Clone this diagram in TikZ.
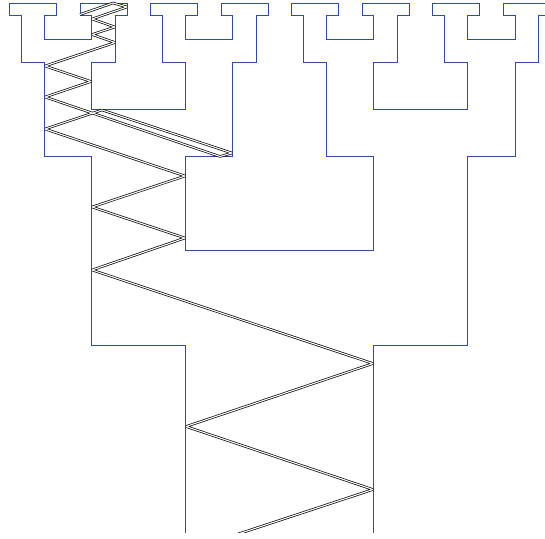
\documentclass[tikz,border=0pt]{standalone}
\definecolor{treeblue}{HTML}{2F4BAA}
\tikzset{
  treeline/.style={draw=treeblue,line width=1pt,line join=miter},
  bounce/.style={draw=black,line width=0.7pt,double=white,double distance=1.1pt,line join=bevel}
}
\begin{document}
\begin{tikzpicture}[x=1pt,y=-1pt]
\useasboundingbox (0,0) rectangle (545,538);
\clip (0,0) rectangle (545,532.5);
\draw[treeline] (185,540)--(185,345)--(91.5,345)--(91.5,156)--(44.5,156)--(44.5,62)--(21,62)--(21,15)--(9,15)--(9,3)--(56,3)--(56,15)--(44.5,15)--(44.5,39)--(91.5,39)--(91.5,15)--(80,15)--(80,3)--(127,3)--(127,15)--(115,15)--(115,62)--(91.5,62)--(91.5,109)--(185,109)--(185,62)--(162,62)--(162,15)--(150,15)--(150,3)--(197,3)--(197,15)--(185,15)--(185,39)--(232.5,39)--(232.5,15)--(221,15)--(221,3)--(268,3)--(268,15)--(256,15)--(256,62)--(232.5,62)--(232.5,156)--(185,156)--(185,250)--(373.5,250)--(373.5,156)--(326,156)--(326,62)--(303,62)--(303,15)--(291,15)--(291,3)--(338,3)--(338,15)--(326,15)--(326,39)--(373.5,39)--(373.5,15)--(362,15)--(362,3)--(409,3)--(409,15)--(397,15)--(397,62)--(373.5,62)--(373.5,109)--(467,109)--(467,62)--(444,62)--(444,15)--(432,15)--(432,3)--(479,3)--(479,15)--(467,15)--(467,39)--(515,39)--(515,15)--(503,15)--(503,3)--(546,3);
\draw[treeline] (546,15)--(538,15)--(538,62)--(515,62)--(515,156)--(467.5,156)--(467.5,345)--(373.5,345)--(373.5,540);
\draw[bounce] (229,537)--(373,489.5)--(186,426.5)--(373,363.5)--(92,270)--(185,238)--(92,207)--(185,176)--(45,129)--(102,110)--(232,153)--(220,156.5)--(45,97)--(91,81.5)--(45,66)--(115,42.5)--(92,34.5)--(115,27)--(92,19)--(127,7)--(113,3)--(80,14.5);
\end{tikzpicture}
\end{document}
